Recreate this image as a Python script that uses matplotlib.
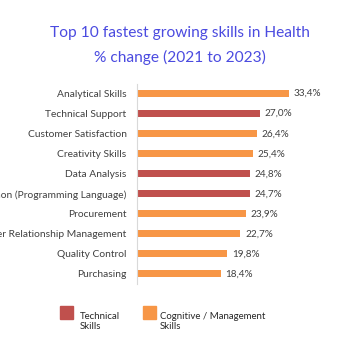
import matplotlib.pyplot as plt

skills = ["Analytical Skills", "Technical Support", "Customer Satisfaction",
          "Creativity Skills", "Data Analysis", "Python (Programming Language)",
          "Procurement", "Customer Relationship Management", "Quality Control",
          "Purchasing"]
change = [33.4, 27.0, 26.4, 25.4, 24.8, 24.7, 23.9, 22.7, 19.8, 18.4]
skill_type = ["cog", "tech", "cog", "cog", "tech", "tech", "cog", "cog", "cog", "cog"]

red = "#C0504D"
orange = "#F79646"
colors = [red if t == "tech" else orange for t in skill_type]

plt.rcParams['font.family'] = ['Lato', 'DejaVu Sans']

fig = plt.figure(figsize=(3.43, 3.47), dpi=100)
ax = fig.add_axes([0.3994, 0.1816, 0.505, 0.5774])

y = list(range(len(skills)))
ax.barh(y, change, height=0.35, color=colors)
ax.set_ylim(len(skills) - 0.5, -0.5)
ax.set_xlim(0, 38)

for i, v in enumerate(change):
    ax.text(v + 1.0, i, f"{v:.1f}%".replace(".", ","), va='center', ha='left',
            fontsize=7.2, color="#404040")

ax.set_yticks(y)
ax.set_yticklabels(skills, fontsize=7.4, color="#404040")
ax.tick_params(axis='y', length=0, pad=7.5)
ax.set_xticks([])
for s in ["top", "right", "bottom"]:
    ax.spines[s].set_visible(False)
ax.spines["left"].set_color("#D9D9D9")
ax.spines["left"].set_linewidth(0.8)

fig.text(0.525, 0.905, "Top 10 fastest growing skills in Health", ha='center', va='center',
         fontsize=11.2, color="#4B4BE0")
fig.text(0.525, 0.833, "% change (2021 to 2023)", ha='center', va='center',
         fontsize=11.2, color="#4B4BE0")

# legend
fig.patches.append(plt.Rectangle((60 / 343, 1 - 319 / 347), 13 / 343, 13 / 347,
                                 transform=fig.transFigure, color=red))
fig.text(80 / 343, 1 - 312 / 347, "Technical\nSkills", fontsize=6.9, va='top',
         ha='left', color="#262626", linespacing=1.2)
fig.patches.append(plt.Rectangle((143 / 343, 1 - 319 / 347), 13 / 343, 13 / 347,
                                 transform=fig.transFigure, color=orange))
fig.text(160 / 343, 1 - 312 / 347, "Cognitive / Management\nSkills", fontsize=6.9,
         va='top', ha='left', color="#262626", linespacing=1.2)

plt.savefig("out.png", dpi=100)
